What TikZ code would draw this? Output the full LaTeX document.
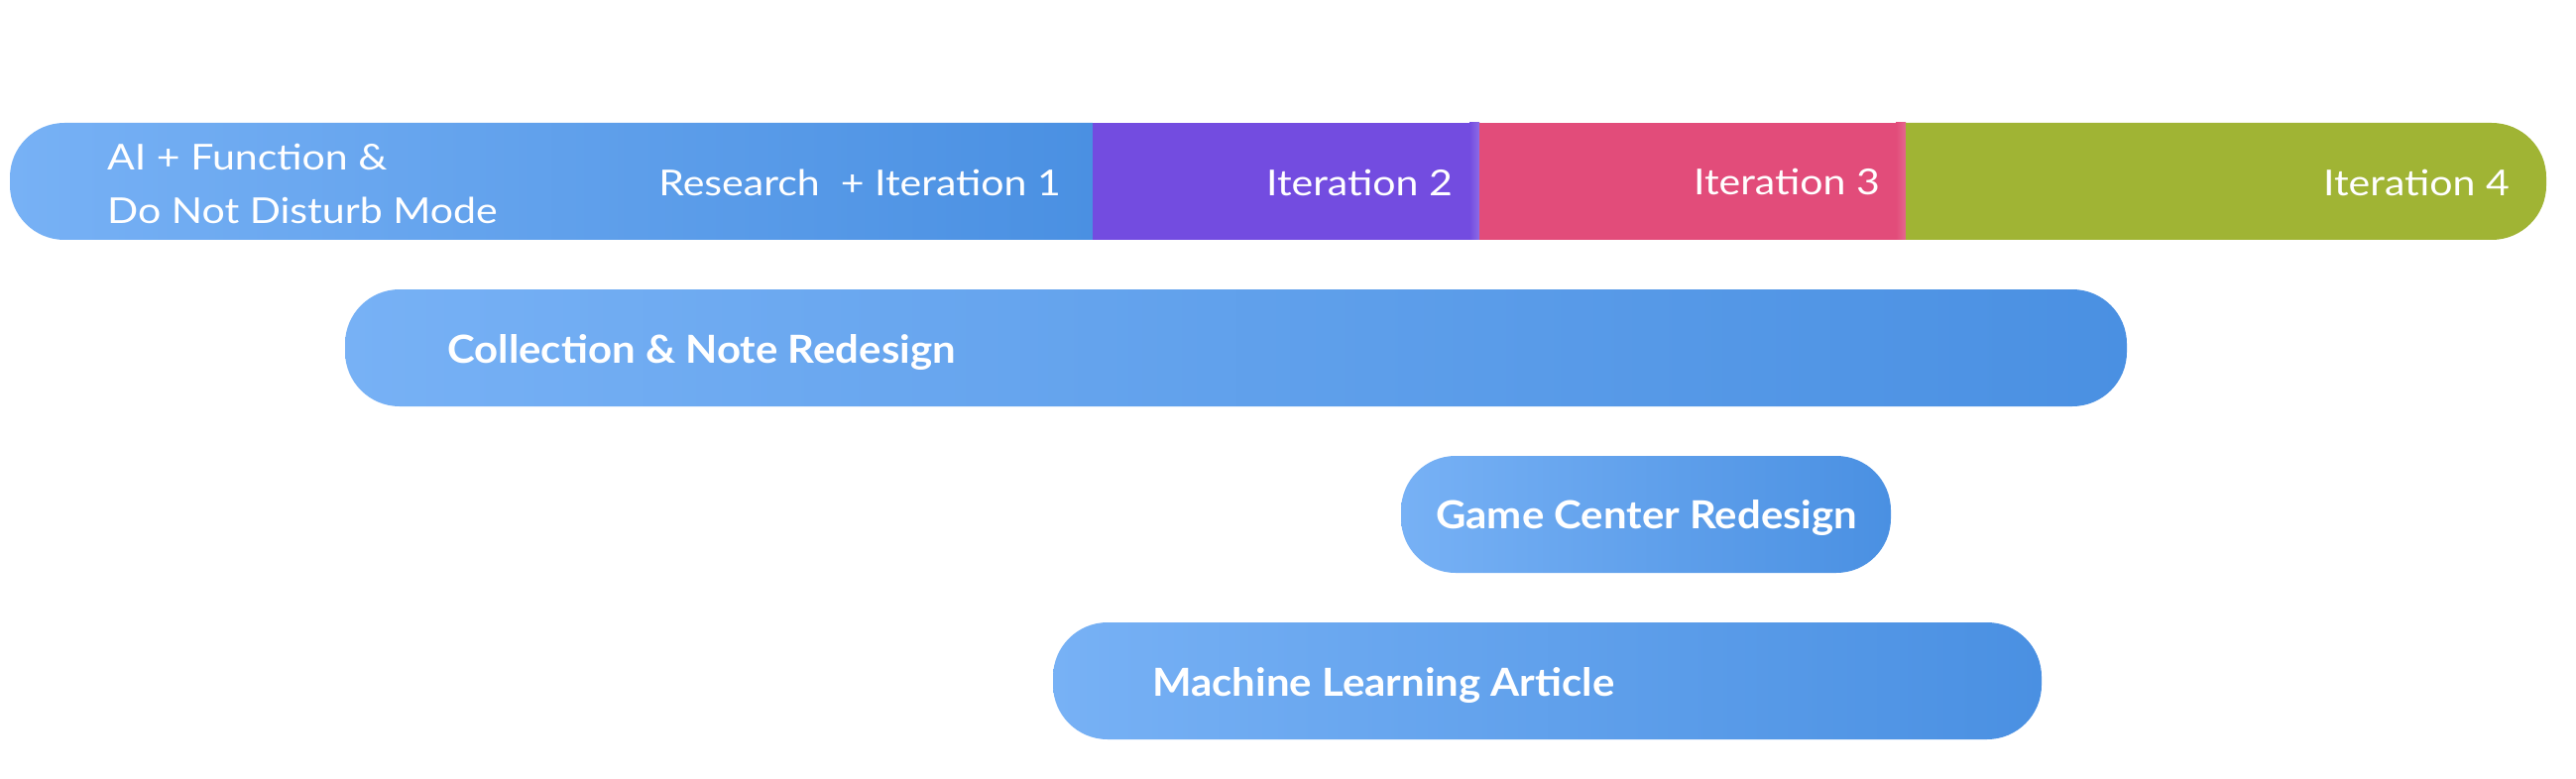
\documentclass[tikz,border=0pt]{standalone}
\usepackage{fontspec}
\setmainfont{Lato}
\newfontfamily\topfont{Lato}[FakeStretch=1.14]
\newfontfamily\barfont{Lato}[FakeStretch=1.075]
\definecolor{blueL}{HTML}{77B1F5}
\definecolor{blueR}{HTML}{4A90E2}
\definecolor{iterpurple}{HTML}{734CE0}
\definecolor{iterpink}{HTML}{E24C7A}
\definecolor{itergreen}{HTML}{A0B434}
\tikzset{
  toplabel/.style={text=white, font=\topfont\fontsize{36}{40}\selectfont, inner sep=0pt},
  barlabel/.style={text=white, font=\barfont\bfseries\fontsize{39}{44}\selectfont, inner sep=0pt, anchor=base west},
  bluebar/.style={left color=blueL, right color=blueR, draw=none, rounded corners=55pt, minimum height=118pt, inner sep=0pt},
}
\begin{document}
\begin{tikzpicture}[x=1pt,y=-1pt]
\useasboundingbox[fill=white] (0,0) rectangle (2598,786);
% top bar segments
\shade[left color=blueL, right color=blueR] (1102,124) [rounded corners=55pt] -- (10,124) -- (10,242) [sharp corners] -- (1102,242) -- cycle;
\fill[iterpurple] (1102,124) rectangle (1492,242);
\shade[left color=iterpurple, right color=iterpurple!82!white] (1482,124) rectangle (1492,242);
\fill[iterpink] (1492,124) rectangle (1922,242);
\shade[left color=iterpink, right color=iterpink!85!white] (1912,124) rectangle (1922,242);
\fill[itergreen] (1922,124) [rounded corners=55pt] -- (2568,124) -- (2568,242) [sharp corners] -- (1922,242) -- cycle;
% top labels
\node[toplabel, anchor=base west] (ai1) at (108,172) {AI + Function \&};
\node[toplabel, anchor=base west] (ai2) at (108,226) {Do Not Disturb Mode};
\node[toplabel, anchor=base east] (it1) at (1070,198) {Research\ \ + Iteration 1};
\node[toplabel, anchor=base east] (it2) at (1465,198) {Iteration 2};
\node[toplabel, anchor=base east] (it3) at (1896,197) {Iteration 3};
\node[toplabel, anchor=base east] (it4) at (2531,198) {Iteration 4};
% lower bars
\node[bluebar, minimum width=1797pt] (collect) at (1246.5,351) {};
\node[bluebar, minimum width=494pt] (game) at (1660,519) {};
\node[bluebar, minimum width=997pt] (ml) at (1560.5,687) {};
\node[barlabel] (collectlbl) at (451,366) {Collection \& Note Redesign};
\node[barlabel] (gamelbl) at (1448,533) {Game Center Redesign};
\node[barlabel] (mllbl) at (1162,702) {Machine Learning Article};
\end{tikzpicture}
\end{document}
